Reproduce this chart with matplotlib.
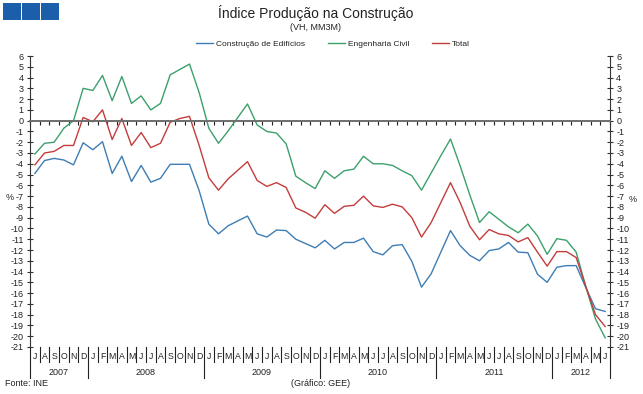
import matplotlib
matplotlib.use('Agg')
import matplotlib.pyplot as plt
import matplotlib.transforms as mtransforms
import numpy as np

plt.rcParams['font.family'] = ['Liberation Sans', 'DejaVu Sans']
plt.rcParams['axes.unicode_minus'] = False

# monthly data, Jul 2007 - Jun 2012 (VH, MM3M, %)
months = ['J', 'A', 'S', 'O', 'N', 'D'] + ['J', 'F', 'M', 'A', 'M', 'J', 'J', 'A', 'S', 'O', 'N', 'D'] * 4 + ['J', 'F', 'M', 'A', 'M', 'J']
years = ['2007', '2008', '2009', '2010', '2011', '2012']
year_len = [6, 12, 12, 12, 12, 6]

edificios = [-4.9, -3.7, -3.5, -3.65, -4.1, -2.05, -2.7, -1.95, -4.9, -3.3,
             -5.65, -4.15, -5.7, -5.35, -4.05, -4.05, -4.05, -6.5, -9.6, -10.5,
             -9.75, -9.3, -8.85, -10.5, -10.8, -10.15, -10.2, -11.0, -11.4, -11.8,
             -11.1, -11.9, -11.3, -11.3, -10.9, -12.15, -12.45, -11.6, -11.5, -13.05,
             -15.45, -14.2, -12.2, -10.2, -11.6, -12.5, -13.0, -12.05, -11.9, -11.3,
             -12.2, -12.25, -14.25, -15.0, -13.6, -13.45, -13.45, -15.5, -17.45, -17.7]
eng_civil = [-3.1, -2.1, -2.0, -0.7, 0.0, 3.0, 2.8, 4.2, 1.85, 4.1,
             1.6, 2.3, 1.0, 1.6, 4.25, 4.75, 5.25, 2.6, -0.7, -2.1,
             -0.95, 0.3, 1.55, -0.4, -1.0, -1.15, -2.15, -5.15, -5.75, -6.3,
             -4.65, -5.35, -4.65, -4.5, -3.3, -4.0, -4.0, -4.15, -4.65, -5.1,
             -6.45, -4.85, -3.25, -1.7, -4.2, -6.9, -9.45, -8.45, -9.15, -9.85,
             -10.4, -9.6, -10.7, -12.4, -10.95, -11.1, -12.2, -15.4, -18.4, -20.15]
total = [-4.1, -3.0, -2.85, -2.3, -2.3, 0.3, -0.1, 1.0, -1.75, 0.2,
         -2.3, -1.1, -2.5, -2.1, -0.15, 0.2, 0.4, -2.3, -5.3, -6.45,
         -5.4, -4.6, -3.8, -5.55, -6.1, -5.75, -6.2, -8.1, -8.5, -9.05,
         -7.8, -8.6, -7.95, -7.85, -7.0, -7.9, -8.05, -7.75, -8.0, -9.0,
         -10.8, -9.45, -7.6, -5.75, -7.6, -9.8, -11.05, -10.1, -10.5, -10.65,
         -11.25, -10.85, -12.2, -13.5, -12.15, -12.15, -12.7, -15.4, -18.0, -19.1]

c_blue = '#3e7db3'
c_green = '#3ca06c'
c_red = '#c43c3c'
txt = '#222222'

W, H = 643, 394
fig = plt.figure(figsize=(W / 100, H / 100), dpi=100)
ax = fig.add_axes([30 / W, 1 - 347 / H, 580 / W, 291 / H])

n = len(months)
x = np.arange(n) + 0.5
ax.plot(x, edificios, color=c_blue, lw=1.0, label='Construção de Edifícios')
ax.plot(x, eng_civil, color=c_green, lw=1.0, label='Engenharia Civil')
ax.plot(x, total, color=c_red, lw=1.0, label='Total')

ax.set_xlim(0, n)
ax.set_ylim(-21, 6)
ax.set_yticks(range(-21, 7))
ax.tick_params(axis='y', which='both', left=True, right=True, labelleft=True, labelright=True,
               direction='inout', length=5, width=0.8, color='#333333', labelsize=6.5,
               labelcolor=txt, pad=2)

# zero line with month ticks
ax.spines['top'].set_visible(False)
ax.spines['bottom'].set_position(('data', 0))
ax.spines['bottom'].set_color('#6e6e6e')
ax.spines['bottom'].set_linewidth(1.4)
ax.spines['left'].set_color('#333333')
ax.spines['right'].set_color('#333333')
ax.set_xticks(range(0, n + 1))
ax.tick_params(axis='x', direction='out', length=3, width=0.8, color='#222222', labelbottom=False)

# category labels below plot
trans = mtransforms.blended_transform_factory(ax.transData, ax.transAxes)
for i, m in enumerate(months):
    ax.text(i + 0.5, -0.031, m, transform=trans, ha='center', va='center', fontsize=6.3, color=txt)
bounds = np.cumsum([0] + year_len)
for i in range(n + 1):
    ylow = -0.105 if i in bounds else -0.05
    ax.plot([i, i], [0, ylow], transform=trans, color='#222222', lw=0.8, clip_on=False)
for k, yr in enumerate(years):
    ax.text((bounds[k] + bounds[k + 1]) / 2, -0.089, yr, transform=trans, ha='center', va='center',
            fontsize=6.5, color=txt)

fig.text(10 / W, 1 - 197 / H, '%', ha='center', va='center', fontsize=6.5, color=txt)
fig.text(633 / W, 1 - 200 / H, '%', ha='center', va='center', fontsize=6.5, color=txt)

fig.text(316 / W, 1 - 13 / H, 'Índice Produção na Construção', ha='center', va='center', fontsize=10, color=txt)
fig.text(316 / W, 1 - 27 / H, '(VH, MM3M)', ha='center', va='center', fontsize=6.5, color=txt)
fig.legend(loc='center', bbox_to_anchor=(333 / W, 1 - 44 / H), ncol=3, frameon=False, fontsize=6,
           handlelength=2.0, handletextpad=0.35, columnspacing=2.8, labelcolor=txt)

fig.text(5 / W, 1 - 383 / H, 'Fonte: INE', ha='left', va='center', fontsize=6.5, color=txt)
fig.text(321 / W, 1 - 383 / H, '(Gráfico: GEE)', ha='center', va='center', fontsize=6.5, color=txt)

# logo squares
for k, x0 in enumerate([3, 22, 41]):
    fig.patches.append(plt.Rectangle((x0 / W, 1 - 20 / H), 17.5 / W, 16.5 / H, transform=fig.transFigure,
                                     facecolor='#1b5ea9', edgecolor='none'))

fig.savefig('out.png', dpi=100)
